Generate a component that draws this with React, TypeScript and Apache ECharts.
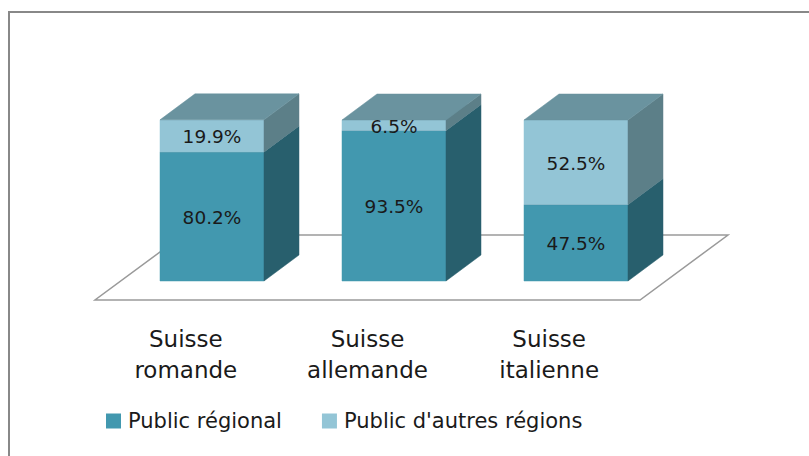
import React, { useEffect, useRef } from "react";
import * as echarts from "echarts";

const categories = ["Suisse\nromande", "Suisse\nallemande", "Suisse\nitalienne"];
const regional = [80.2, 93.5, 47.5];
const others = [19.9, 6.5, 52.5];
const seriesNames = ["Public régional", "Public d'autres régions"];
const valueLabels = (v: number) => v.toFixed(1) + "%";

const FONT = "'DejaVu Sans', 'Noto Sans', sans-serif";
const TEXT = "#1a1a1a";

// layout (pixels)
const GRID_LEFT = 121;
const GRID_TOP = 120;
const GRID_W = 546;
const GRID_H = 161;
const DEPTH_X = 35;
const DEPTH_Y = 26;
const BAR_RATIO = 104 / 182;

const palettes = [
  { front: "#4298AF", side: "#285F6D", top: "#6A939F" },
  { front: "#93C5D6", side: "#5C7F88", top: "#6A939F" },
];

function makeRender(pal: { front: string; side: string; top: string }) {
  return (params: any, api: any) => {
    const x = api.value(0);
    const lo = api.value(1);
    const hi = api.value(2);
    const pLo = api.coord([x, lo]);
    const pHi = api.coord([x, hi]);
    const w = api.size([1, 0])[0] * BAR_RATIO;
    const xl = pLo[0] - w / 2;
    const xr = pLo[0] + w / 2;
    const yb = pLo[1];
    const yt = pHi[1];
    return {
      type: "group",
      children: [
        {
          type: "rect",
          shape: { x: xl, y: yt, width: w, height: yb - yt },
          style: { fill: pal.front, stroke: pal.front, lineWidth: 0.5 },
        },
        {
          type: "polygon",
          shape: {
            points: [
              [xr, yb],
              [xr + DEPTH_X, yb - DEPTH_Y],
              [xr + DEPTH_X, yt - DEPTH_Y],
              [xr, yt],
            ],
          },
          style: { fill: pal.side, stroke: pal.side, lineWidth: 0.5 },
        },
        {
          type: "polygon",
          shape: {
            points: [
              [xl, yt],
              [xr, yt],
              [xr + DEPTH_X, yt - DEPTH_Y],
              [xl + DEPTH_X, yt - DEPTH_Y],
            ],
          },
          style: { fill: pal.top, stroke: pal.top, lineWidth: 0.5 },
        },
        {
          type: "text",
          style: {
            x: (xl + xr) / 2,
            y: (yt + yb) / 2 + 1,
            text: valueLabels(hi - lo),
            fill: TEXT,
            font: `18.5px ${FONT}`,
            align: "center",
            verticalAlign: "middle",
          },
        },
      ],
    };
  };
}

export default function App() {
  const ref = useRef<HTMLDivElement>(null);
  useEffect(() => {
    if (!ref.current) return;
    const chart = echarts.init(ref.current, undefined, { renderer: "svg" });

    const floorFrontY = GRID_TOP + GRID_H + 19;
    const floorBackY = floorFrontY - 65;
    const fl = GRID_LEFT - 26;
    const fr = GRID_LEFT + GRID_W - 27;

    const d1 = regional.map((v, i) => [i, 0, v]);
    const d2 = others.map((v, i) => [i, regional[i], regional[i] + v]);

    chart.setOption({
      animation: false,
      backgroundColor: "#ffffff",
      graphic: [
        {
          type: "rect",
          shape: { x: 9, y: 12, width: 900, height: 600 },
          style: { fill: "none", stroke: "#888888", lineWidth: 2 },
          z: -1,
        },
        {
          type: "polygon",
          shape: {
            points: [
              [fl, floorFrontY],
              [fr, floorFrontY],
              [fr + 88, floorBackY],
              [fl + 88, floorBackY],
            ],
          },
          style: { fill: "#ffffff", stroke: "#9a9a9a", lineWidth: 1.5 },
          z: 0,
        },
      ],
      legend: {
        left: 106,
        top: 410,
        padding: 0,
        itemWidth: 15,
        itemHeight: 15,
        itemGap: 40,
        icon: "rect",
        textStyle: { fontFamily: FONT, fontSize: 21, color: TEXT, lineHeight: 22, padding: [0, 0, 0, 2] },
        data: seriesNames,
      },
      grid: [
        { left: GRID_LEFT, top: GRID_TOP, width: GRID_W, height: GRID_H },
        { left: fl, top: floorBackY, width: fr - fl, height: floorFrontY - floorBackY },
      ],
      xAxis: [
        { type: "category", data: categories, show: false, gridIndex: 0 },
        {
          type: "category",
          data: categories,
          gridIndex: 1,
          axisLine: { show: false },
          axisTick: { show: false },
          splitLine: { show: false },
          axisLabel: {
            margin: 23.5,
            fontFamily: FONT,
            fontSize: 23,
            lineHeight: 31,
            color: TEXT,
          },
        },
      ],
      yAxis: [
        { type: "value", min: 0, max: 100, show: false, gridIndex: 0 },
        { type: "value", show: false, gridIndex: 1 },
      ],
      series: [
        {
          name: seriesNames[0],
          type: "custom",
          xAxisIndex: 0,
          yAxisIndex: 0,
          itemStyle: { color: palettes[0].front },
          renderItem: makeRender(palettes[0]),
          data: d1,
          z: 2,
        },
        {
          name: seriesNames[1],
          type: "custom",
          xAxisIndex: 0,
          yAxisIndex: 0,
          itemStyle: { color: palettes[1].front },
          renderItem: makeRender(palettes[1]),
          data: d2,
          z: 3,
        },
      ],
    });
    return () => chart.dispose();
  }, []);
  return (
    <div
      ref={ref}
      style={{ position: "fixed", left: 0, top: 0, width: 809, height: 456 }}
    />
  );
}
